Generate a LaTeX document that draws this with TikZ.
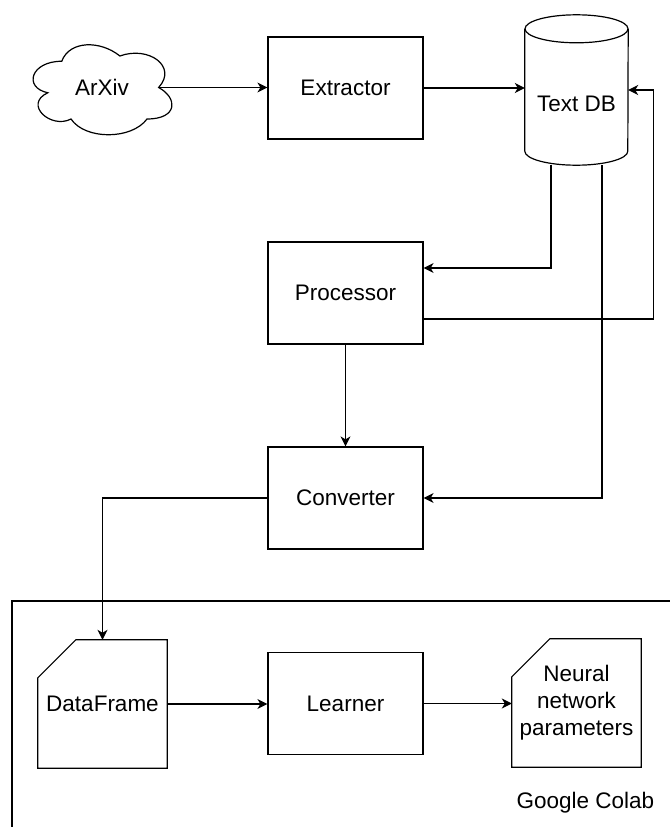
\documentclass[tikz,border=0pt]{standalone}
\usepackage{fontspec}
\setmainfont{Liberation Sans}
\usetikzlibrary{arrows.meta}

\tikzset{
  wire/.style={line width=1.2pt, draw=black},
  flow/.style={wire, -{Stealth[length=10pt, width=10pt, inset=3pt]}},
  stepbox/.style={draw, line width=1.2pt, minimum width=155pt, minimum height=102pt,
    inner sep=0pt, align=center},
  ghost/.style={inner sep=0pt, align=center},
}

\begin{document}
\begin{tikzpicture}[x=1pt, y=-1pt, font=\fontsize{22.5}{27}\selectfont]
  \useasboundingbox (0,0) rectangle (670,827);

  % ArXiv cloud
  \begin{scope}[shift={(23,35)}, x=155pt, y=-105pt]
    \draw[wire] (0.25,0.25)
      .. controls (0.05,0.25) and (0,0.5) .. (0.16,0.55)
      .. controls (0,0.66) and (0.18,0.9) .. (0.31,0.8)
      .. controls (0.4,1) and (0.7,1) .. (0.8,0.8)
      .. controls (1,0.8) and (1,0.6) .. (0.875,0.5)
      .. controls (1,0.3) and (0.81,0.1) .. (0.625,0.2)
      .. controls (0.5,0.05) and (0.3,0.05) .. cycle;
    \node[ghost] (arxiv) at (0.51,0.5) {ArXiv};
    \coordinate (arxivE) at (0.875,0.5);
  \end{scope}

  % processing steps
  \node[stepbox] (extr) at (345.5,88) {Extractor};
  \node[stepbox] (proc) at (345.5,293) {Processor};
  \node[stepbox] (conv) at (345.5,498) {Converter};
  \node[stepbox] (learn) at (345.5,703.5) {Learner};

  % Text DB cylinder
  \node[ghost, minimum width=103pt, minimum height=150pt] (db) at (576.5,90) {};
  \draw[wire] ([yshift=-14pt]db.north west) -- ([yshift=14pt]db.south west)
    arc[start angle=180, end angle=360, x radius=51.5pt, y radius=14pt]
    -- ([yshift=-14pt]db.north east);
  \draw[wire] ([yshift=-14pt]db.north) ellipse [x radius=51.5pt, y radius=14pt];
  \node[ghost] (dblabel) at ([yshift=-14pt]db.center) {Text DB};

  % Google Colab area
  \draw[wire] (12,827) -- (12,601) -- (670,601);
  \node[ghost] (colab) at (585.5,803) {Google Colab};

  % document cards
  \node[ghost, minimum width=129pt, minimum height=128pt] (df) at (102.5,704) {DataFrame};
  \node[ghost, minimum width=129pt, minimum height=128pt] (nn) at (576.5,703)
    {Neural\\network\\parameters};
  \foreach \c in {df, nn} {
    \draw[wire] (\c.south west) -- ([yshift=-38pt]\c.north west)
      -- ([xshift=38pt]\c.north west) -- (\c.north east) -- (\c.south east) -- cycle;
  }

  % connectors
  \draw[flow] (arxivE) -- (arxivE -| extr.west);
  \draw[flow] (extr.east) -- (extr.east -| db.west);
  \draw[flow] ([xshift=-25.5pt]db.south) |- ([yshift=25pt]proc.east);
  \draw[flow] ([yshift=-26pt]proc.east) -| ([xshift=25pt]db.east) -- (db.east);
  \draw[flow] (proc.south) -- (conv.north);
  \draw[flow] ([xshift=25.5pt]db.south) |- (conv.east);
  \draw[flow] (conv.west) -| (df.north);
  \draw[flow] (df.east) -- (df.east -| learn.west);
  \draw[flow] (learn.east) -- (learn.east -| nn.west);
\end{tikzpicture}
\end{document}
